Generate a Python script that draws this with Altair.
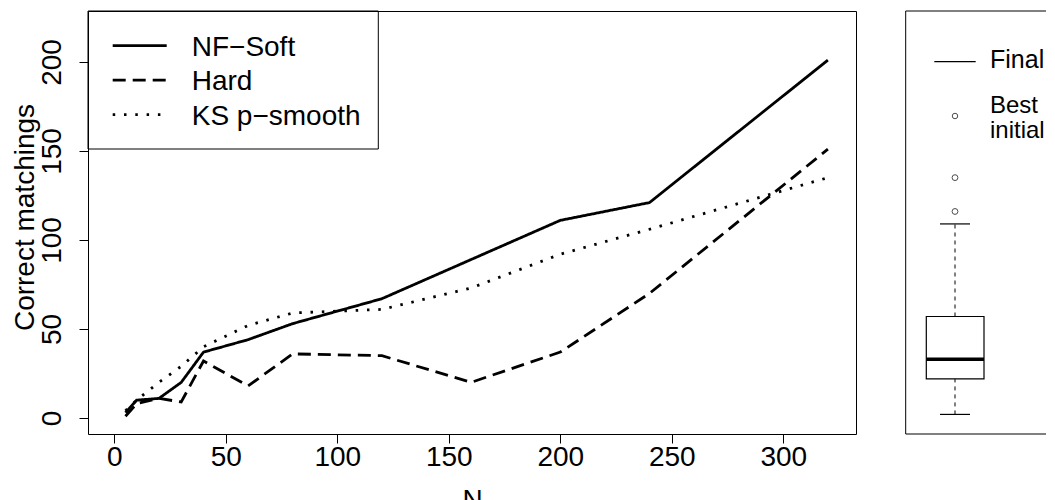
import altair as alt
import pandas as pd

# ---- data ----
N = [5, 10, 20, 30, 40, 60, 80, 120, 160, 200, 240, 320]
nf_soft = [3, 10, 11, 20, 37, 44, 53, 67, 89, 111, 121, 201]
hard = [1, 8, 11, 9, 32, 18, 36, 35, 20, 37, 70, 151]
ks_smooth = [4, 10, 20, 29, 40, 52, 59, 61, 73, 92, 106, 135]
series_names = ["NF−Soft", "Hard", "KS p−smooth"]

box_q1 = 22
box_median = 33
box_q3 = 57
whisker_low = 2
whisker_high = 109
outliers = [116, 135]

x_ticks = [0, 50, 100, 150, 200, 250, 300]
y_ticks = [0, 50, 100, 150, 200]

# ---- tables ----
rows = []
for name, vals in zip(series_names, [nf_soft, hard, ks_smooth]):
    for n, v in zip(N, vals):
        rows.append({"N": n, "value": v, "series": name})
df = pd.DataFrame(rows)
box_df = pd.DataFrame({"q1": [box_q1], "median": [box_median], "q3": [box_q3],
                       "lo": [whisker_low], "hi": [whisker_high]})
out_df = pd.DataFrame({"value": outliers})
one = pd.DataFrame({"a": [0]})

W, H = 768, 423
FONT = "Liberation Sans"
dash_range = [[1, 0], [13, 7], [2.5, 8.8]]

xscale = alt.Scale(domain=[-11.8, 332.6], nice=False, zero=False)
yscale = alt.Scale(domain=[-9, 228.6], nice=False, zero=False)

lines = alt.Chart(df).mark_line(color="black", strokeWidth=2.8, strokeCap="butt", clip=True).encode(
    x=alt.X("N:Q", scale=xscale, title="N",
            axis=alt.Axis(values=x_ticks, tickSize=9, labelFontSize=28, labelFont=FONT,
                          labelBaseline="top", labelPadding=0, domain=False, grid=False,
                          tickColor="black", labelColor="black", titleFontSize=28,
                          titleFont=FONT, titleFontWeight="normal", titleBaseline="top",
                          titleY=52, titleColor="black")),
    y=alt.Y("value:Q", scale=yscale, title="Correct matchings",
            axis=alt.Axis(values=y_ticks, tickSize=9, labelFontSize=28, labelFont=FONT,
                          labelAngle=270, labelAlign="center", labelBaseline="bottom",
                          labelPadding=13, domain=False, grid=False, tickColor="black",
                          labelColor="black", titleFontSize=28, titleFont=FONT,
                          titleFontWeight="normal", titleAngle=270, titleAlign="center",
                          titleBaseline="alphabetic", titleX=-55, titleY=206,
                          titleColor="black")),
    strokeDash=alt.StrokeDash("series:N", scale=alt.Scale(domain=series_names, range=dash_range),
                              legend=None),
    order="N:Q",
)

layers = [lines]

# left legend
layers.append(alt.Chart(one).mark_rect(fill="white", fillOpacity=0, stroke="black", strokeWidth=1).encode(
    x=alt.value(0), x2=alt.value(290.3), y=alt.value(0), y2=alt.value(138)))
leg_y = [34.7, 69.2, 103.7]
for name, dash, ly in zip(series_names, dash_range, leg_y):
    layers.append(alt.Chart(one).mark_rule(color="black", strokeWidth=2.8, strokeDash=dash,
                                           strokeCap="butt").encode(
        x=alt.value(24.7), x2=alt.value(78.7), y=alt.value(ly)))
    layers.append(alt.Chart(one).mark_text(text=name, font=FONT, fontSize=28, align="left",
                                           baseline="alphabetic", color="black").encode(
        x=alt.value(103.7), y=alt.value(ly + 10)))

# right panel frame
layers.append(alt.Chart(one).mark_rect(fill="white", fillOpacity=0, stroke="black", strokeWidth=1).encode(
    x=alt.value(817.7), x2=alt.value(990), y=alt.value(0), y2=alt.value(H)))

# boxplot
bx0, bx1, bc = 838.3, 896, 867
layers.append(alt.Chart(box_df).mark_rule(color="black", strokeWidth=1, strokeDash=[4, 4]).encode(
    x=alt.value(bc), y=alt.Y("q3:Q", scale=yscale), y2="hi:Q"))
layers.append(alt.Chart(box_df).mark_rule(color="black", strokeWidth=1, strokeDash=[4, 4]).encode(
    x=alt.value(bc), y=alt.Y("lo:Q", scale=yscale), y2="q1:Q"))
layers.append(alt.Chart(box_df).mark_rect(fill="white", stroke="black", strokeWidth=1.2).encode(
    x=alt.value(bx0), x2=alt.value(bx1), y=alt.Y("q3:Q", scale=yscale), y2="q1:Q"))
layers.append(alt.Chart(box_df).mark_rule(color="black", strokeWidth=3.5).encode(
    x=alt.value(bx0), x2=alt.value(bx1), y=alt.Y("median:Q", scale=yscale)))
layers.append(alt.Chart(box_df).mark_rule(color="black", strokeWidth=1.2).encode(
    x=alt.value(852), x2=alt.value(882), y=alt.Y("hi:Q", scale=yscale)))
layers.append(alt.Chart(box_df).mark_rule(color="black", strokeWidth=1.2).encode(
    x=alt.value(852), x2=alt.value(882), y=alt.Y("lo:Q", scale=yscale)))
layers.append(alt.Chart(out_df).mark_point(shape="circle", filled=False, size=34, color="black",
                                           strokeWidth=1).encode(
    x=alt.value(bc), y=alt.Y("value:Q", scale=yscale)))

# right legend
layers.append(alt.Chart(one).mark_rule(color="black", strokeWidth=1.3).encode(
    x=alt.value(846.3), x2=alt.value(887.7), y=alt.value(50.7)))
layers.append(alt.Chart(one).mark_text(text="Final", font=FONT, fontSize=25, align="left",
                                       baseline="alphabetic", color="black").encode(
    x=alt.value(902), y=alt.value(56.7)))
layers.append(alt.Chart(one).mark_point(shape="circle", filled=False, size=30, color="black",
                                        strokeWidth=1).encode(
    x=alt.value(867), y=alt.value(105)))
layers.append(alt.Chart(one).mark_text(text="Best", font=FONT, fontSize=24, align="left",
                                       baseline="alphabetic", color="black").encode(
    x=alt.value(902), y=alt.value(102.3)))
layers.append(alt.Chart(one).mark_text(text="initial", font=FONT, fontSize=24, align="left",
                                       baseline="alphabetic", color="black").encode(
    x=alt.value(902), y=alt.value(126.7)))

chart = alt.layer(*layers).properties(
    width=W, height=H,
    autosize=alt.AutoSizeParams(type="none"),
    padding={"left": 80, "top": 3, "right": 190, "bottom": 66},
    background="white",
).configure_view(stroke="black", strokeWidth=1)

chart.save("out.html", embed_options={"renderer": "svg", "actions": False})
